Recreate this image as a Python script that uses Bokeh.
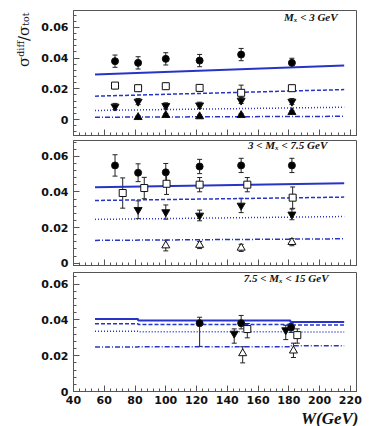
import numpy as np
from bokeh.plotting import figure
from bokeh.layouts import column
from bokeh.models import (ColumnDataSource, FixedTicker, Label, Whisker, TeeHead, Title,
                          Range1d, PrintfTickFormatter, CustomJSTickFormatter)
from bokeh.embed import file_html
from bokeh.resources import INLINE

# ---------------- data ----------------
X_TICKS = [40, 60, 80, 100, 120, 140, 160, 180, 200, 220]
Y_TICKS = [0, 0.02, 0.04, 0.06]

# model curves (W in GeV)
W_MODEL = [54, 216]
P1_SOLID = [0.0293, 0.0352]
P1_DASH = [0.0152, 0.0195]
P1_DOT = [0.0059, 0.0080]
P1_DASHDOT = [0.0015, 0.0021]

P2_SOLID = [0.0427, 0.0449]
P2_DASH = [0.0352, 0.0371]
P2_DOT = [0.0246, 0.0262]
P2_DASHDOT = [0.0128, 0.0137]

W3_MODEL = [54, 82, 181, 216]
P3_SOLID = [0.0405, 0.0397, 0.0388, 0.0388]
P3_DASH = [0.0378, 0.0375, 0.0372, 0.0372]
P3_DOT = [0.0336, 0.0334, 0.0333, 0.0333]
P3_DASHDOT = [0.0248, 0.0250, 0.0255, 0.0255]

# panel 1: Mx < 3 GeV
W1 = [67, 82, 100, 122, 149, 182]
P1_CIRC = [0.0380, 0.0369, 0.0395, 0.0384, 0.0423, 0.0369]
P1_CIRC_ERR = [0.004, 0.004, 0.004, 0.004, 0.004, 0.003]
P1_SQ = [0.0221, 0.0204, 0.0217, 0.0206, 0.0174, 0.0204]
P1_SQ_ERR = [0.002, 0.002, 0.002, 0.002, 0.005, 0.002]
P1_DTRI = [0.0085, 0.0117, 0.0089, 0.0093, 0.0124, 0.0117]
P1_DTRI_ERR = [0.002, 0.002, 0.002, 0.002, 0.002, 0.002]
W1_UTRI = [82, 100, 122, 149, 182]
P1_UTRI = [0.0015, 0.0028, 0.0020, 0.0028, 0.0048]
P1_UTRI_ERR = [0.001, 0.001, 0.001, 0.001, 0.001]

# panel 2: 3 < Mx < 7.5 GeV
W2_CIRC = [67, 82, 100, 122, 149, 182]
P2_CIRC = [0.0549, 0.0508, 0.0510, 0.0543, 0.0549, 0.0549]
P2_CIRC_ERR = [0.006, 0.005, 0.005, 0.004, 0.004, 0.004]
W2_SQ = [72, 86, 100.5, 122, 153, 182.5]
P2_SQ = [0.0394, 0.0422, 0.0446, 0.0441, 0.0441, 0.0368]
P2_SQ_ERR = [0.0085, 0.006, 0.006, 0.004, 0.004, 0.006]
W2_DTRI = [82, 100, 122, 149, 182]
P2_DTRI = [0.0300, 0.0287, 0.0268, 0.0324, 0.0274]
P2_DTRI_ERR = [0.005, 0.004, 0.003, 0.004, 0.003]
W2_UTRI = [100, 122, 149, 182]
P2_UTRI = [0.0099, 0.0102, 0.0086, 0.0118]
P2_UTRI_ERR = [0.003, 0.002, 0.002, 0.002]

# panel 3: 7.5 < Mx < 15 GeV
W3_CIRC = [122, 149, 181.5]
P3_CIRC = [0.0382, 0.0382, 0.0358]
P3_CIRC_LO = [0.0252, 0.0350, 0.0330]
P3_CIRC_HI = [0.0415, 0.0425, 0.0380]
W3_DTRI = [144.5, 178]
P3_DTRI = [0.0324, 0.0343]
P3_DTRI_LO = [0.0270, 0.0290]
P3_DTRI_HI = [0.0350, 0.0370]
W3_SQ = [153, 185.5]
P3_SQ = [0.0349, 0.0315]
P3_SQ_LO = [0.0300, 0.0270]
P3_SQ_HI = [0.0380, 0.0350]
W3_UTRI = [150, 183]
P3_UTRI = [0.0213, 0.0228]
P3_UTRI_LO = [0.0160, 0.0190]
P3_UTRI_HI = [0.0250, 0.0270]

# ---------------- styling ----------------
BLUE = "#2834c8"
FRAME = "#555555"
TICK_FONT = "DejaVu Sans"
SERIF = "Liberation Serif"


def make_panel(yr, frame_h, top, bottom, show_x):
    p = figure(frame_width=283, frame_height=frame_h,
               x_range=Range1d(40, 224), y_range=Range1d(*yr),
               output_backend="svg", toolbar_location=None,
               min_border_left=73, min_border_right=10,
               min_border_top=top, min_border_bottom=bottom)
    p.grid.visible = False
    p.outline_line_color = FRAME
    p.outline_line_width = 1
    p.xaxis.ticker = FixedTicker(ticks=X_TICKS, minor_ticks=list(range(40, 225, 4)))
    p.yaxis.ticker = FixedTicker(ticks=Y_TICKS,
                                 minor_ticks=[round(v, 4) for v in np.arange(-0.012, 0.072, 0.004)])
    p.yaxis.formatter = PrintfTickFormatter(format="%g")
    for ax in (p.xaxis[0], p.yaxis[0]):
        ax.axis_line_color = FRAME
        ax.major_tick_line_color = FRAME
        ax.minor_tick_line_color = FRAME
        ax.major_tick_in = 6
        ax.major_tick_out = 0
        ax.minor_tick_in = 3
        ax.minor_tick_out = 0
        ax.major_label_text_font = TICK_FONT
        ax.major_label_text_font_style = "bold"
        ax.major_label_text_font_size = "11px"
        ax.major_label_text_color = "#111111"
    p.yaxis.major_label_standoff = 5
    if show_x:
        p.xaxis.major_label_standoff = 4
    else:
        p.xaxis.formatter = CustomJSTickFormatter(code="return ''")
        p.xaxis.major_label_standoff = 0
    return p


def model_lines(p, xs, solid, dash, dot, dashdot, step=False):
    if step:
        p.step(xs, solid, mode="after", line_color=BLUE, line_width=2)
        p.step(xs, dash, mode="after", line_color=BLUE, line_width=1.5, line_dash="4 2")
        p.step(xs, dot, mode="after", line_color=BLUE, line_width=1.5, line_dash="1 2")
        p.step(xs, dashdot, mode="after", line_color=BLUE, line_width=1.5, line_dash="5 2 1 2")
    else:
        p.line(xs, solid, line_color=BLUE, line_width=2)
        p.line(xs, dash, line_color=BLUE, line_width=1.5, line_dash="4 2")
        p.line(xs, dot, line_color=BLUE, line_width=1.5, line_dash="1 2")
        p.line(xs, dashdot, line_color=BLUE, line_width=1.5, line_dash="5 2 1 2")


def points(p, xs, ys, lo, hi, marker, fill, size):
    src = ColumnDataSource(dict(x=xs, y=ys, lo=lo, hi=hi))
    w = Whisker(base="x", lower="lo", upper="hi", source=src,
                line_color="#222222", line_width=1,
                lower_head=TeeHead(size=5, line_color="#222222", line_width=1),
                upper_head=TeeHead(size=5, line_color="#222222", line_width=1))
    p.add_layout(w)
    p.scatter("x", "y", source=src, marker=marker, size=size,
              fill_color=fill, line_color="#111111", line_width=1)


def sym(ys, es):
    return [y - e for y, e in zip(ys, es)], [y + e for y, e in zip(ys, es)]


def panel_label(p, x, y, text):
    p.add_layout(Label(x=x, y=y, text=text, text_font=SERIF, text_font_style="bold italic",
                       text_font_size="11px", text_align="right", text_baseline="middle",
                       text_color="#111111"))


# ---------------- panel 1 ----------------
p1 = make_panel((-0.0104, 0.071), 125, 10, 2, False)
model_lines(p1, W_MODEL, P1_SOLID, P1_DASH, P1_DOT, P1_DASHDOT)
points(p1, W1, P1_CIRC, *sym(P1_CIRC, P1_CIRC_ERR), "circle", "black", 7)
points(p1, W1, P1_SQ, *sym(P1_SQ, P1_SQ_ERR), "square", "white", 7)
points(p1, W1, P1_DTRI, *sym(P1_DTRI, P1_DTRI_ERR), "inverted_triangle", "black", 8)
points(p1, W1_UTRI, P1_UTRI, *sym(P1_UTRI, P1_UTRI_ERR), "triangle", "black", 8)
panel_label(p1, 211.7, 0.0665, "Mₓ < 3 GeV")
p1.add_layout(Title(text="σᵈⁱᶠᶠ/σₜₒₜ", align="right", text_font="DejaVu Serif",
                    text_font_size="15px", text_font_style="normal", text_color="#111111",
                    standoff=12, offset=2), "left")

# ---------------- panel 2 ----------------
p2 = make_panel((-0.0013, 0.0689), 125, 3, 4, False)
model_lines(p2, W_MODEL, P2_SOLID, P2_DASH, P2_DOT, P2_DASHDOT)
points(p2, W2_CIRC, P2_CIRC, *sym(P2_CIRC, P2_CIRC_ERR), "circle", "black", 7)
points(p2, W2_SQ, P2_SQ, *sym(P2_SQ, P2_SQ_ERR), "square", "white", 7)
points(p2, W2_DTRI, P2_DTRI, *sym(P2_DTRI, P2_DTRI_ERR), "inverted_triangle", "black", 8)
points(p2, W2_UTRI, P2_UTRI, *sym(P2_UTRI, P2_UTRI_ERR), "triangle", "white", 8)
panel_label(p2, 205.0, 0.0661, "3 < Mₓ < 7.5 GeV")

# ---------------- panel 3 ----------------
p3 = make_panel((0.0, 0.0665), 119, 3, 2, True)
model_lines(p3, W3_MODEL, P3_SOLID, P3_DASH, P3_DOT, P3_DASHDOT, step=True)
points(p3, W3_CIRC, P3_CIRC, P3_CIRC_LO, P3_CIRC_HI, "circle", "black", 7)
points(p3, W3_DTRI, P3_DTRI, P3_DTRI_LO, P3_DTRI_HI, "inverted_triangle", "black", 8)
points(p3, W3_SQ, P3_SQ, P3_SQ_LO, P3_SQ_HI, "square", "white", 7)
points(p3, W3_UTRI, P3_UTRI, P3_UTRI_LO, P3_UTRI_HI, "triangle", "white", 8)
panel_label(p3, 205.8, 0.0635, "7.5 < Mₓ < 15 GeV")
p3.add_layout(Title(text="W(GeV)", align="right", text_font=SERIF,
                    text_font_style="bold italic", text_font_size="17px",
                    text_color="#111111", standoff=0, offset=-2), "below")

layout = column(p1, p2, p3)
open("out.html", "w").write(file_html(layout, INLINE))
